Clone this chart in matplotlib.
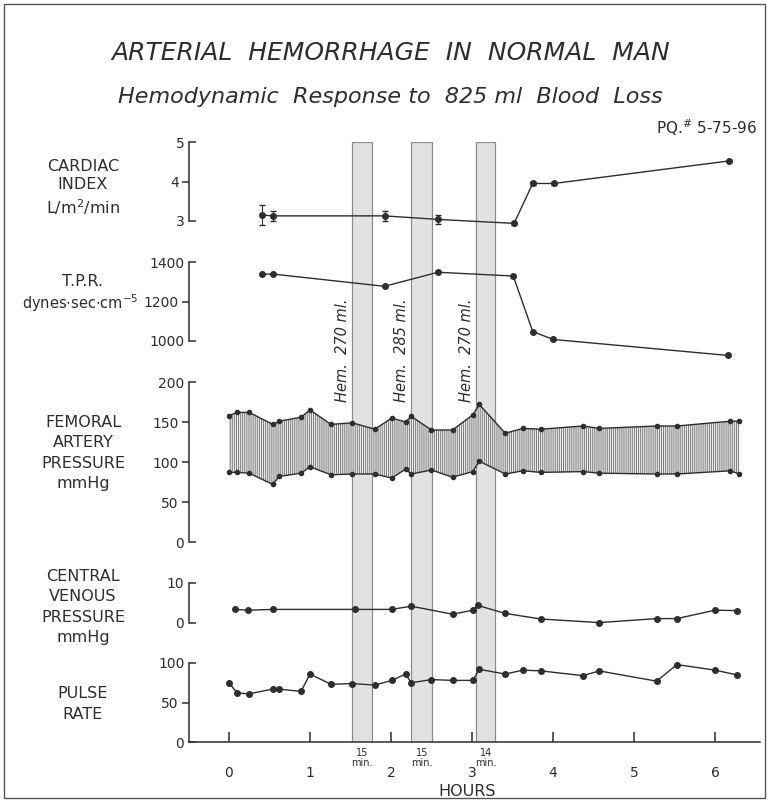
import matplotlib
matplotlib.use("Agg")
import matplotlib.pyplot as plt
from matplotlib.patches import Rectangle
from matplotlib.ticker import FixedLocator, FixedFormatter

plt.rcParams['font.family'] = ['DejaVu Sans']
plt.rcParams['hatch.linewidth'] = 0.7
plt.rcParams['hatch.color'] = '#7a7a7a'

INK = '#2e2e2e'

# cardiac index (L/m2/min)
ci_h = [0.41, 0.54, 1.92, 2.58, 3.52, 3.75, 4.01, 6.17]
ci = [3.15, 3.13, 3.13, 3.04, 2.94, 3.95, 3.95, 4.52]
ci_err = [0.25, 0.12, 0.12, 0.12, 0.04, 0.04, 0.04, 0.03]

# total peripheral resistance
tpr_h = [0.41, 0.54, 1.92, 2.58, 3.51, 3.75, 4.00, 6.16]
tpr = [1339, 1339, 1277, 1348, 1329, 1048, 1008, 927]

# femoral artery pressure
fem_h = [0.0, 0.10, 0.25, 0.54, 0.62, 0.89, 1.0, 1.26, 1.52, 1.80, 2.01, 2.18, 2.25,
         2.50, 2.76, 3.01, 3.09, 3.41, 3.63, 3.85, 4.37, 4.57, 5.28, 5.53, 6.19, 6.30]
fem_sys = [158, 162, 162, 147, 151, 156, 165, 147, 149, 141, 155, 150, 157,
           140, 140, 159, 172, 136, 142, 141, 145, 142, 145, 145, 151, 151]
fem_dia = [87, 87, 86, 72, 82, 86, 94, 84, 85, 85, 80, 91, 85,
           90, 81, 88, 101, 85, 89, 87, 88, 86, 85, 85, 89, 85]

# central venous pressure
cvp_h = [0.08, 0.24, 0.54, 1.55, 2.01, 2.25, 2.76, 3.01, 3.07, 3.41, 3.85, 4.57, 5.28, 5.53, 6.0, 6.27]
cvp = [3.4, 3.2, 3.4, 3.4, 3.4, 4.2, 2.2, 3.2, 4.4, 2.4, 1.0, 0.1, 1.1, 1.1, 3.2, 3.1]

# pulse rate
pulse_h = [0.0, 0.10, 0.25, 0.54, 0.62, 0.89, 1.0, 1.26, 1.52, 1.80, 2.01, 2.18, 2.25,
           2.50, 2.76, 3.01, 3.09, 3.41, 3.63, 3.85, 4.37, 4.57, 5.28, 5.53, 6.0, 6.27]
pulse = [75, 62, 61, 67, 67, 64, 86, 73, 74, 72, 78, 86, 75,
         79, 78, 78, 92, 86, 91, 90, 84, 90, 77, 98, 91, 85]

# hemorrhage periods
hem_start = [1.52, 2.25, 3.05]
hem_end = [1.77, 2.51, 3.29]
hem_vol = ['270', '285', '270']
hem_min = ['15', '15', '14']

W, H = 768, 802
fig = plt.figure(figsize=(W / 100, H / 100), dpi=100)
XL = (-0.5, 6.55)
LEFT, RIGHT = 188.5, 759.5


def panel(top, bottom, **kw):
    return fig.add_axes([LEFT / W, 1 - bottom / H, (RIGHT - LEFT) / W, (bottom - top) / H], **kw)


def style_y(ax, lo, hi, mids, fmt=str):
    ax.set_ylim(lo, hi)
    ax.set_xlim(*XL)
    ax.patch.set_visible(False)
    for s in ['top', 'right']:
        ax.spines[s].set_visible(False)
    ax.spines['left'].set_bounds(lo, hi)
    ax.spines['left'].set_color(INK)
    ax.spines['left'].set_linewidth(1.1)
    ax.yaxis.set_major_locator(FixedLocator([lo, hi]))
    ax.yaxis.set_major_formatter(FixedFormatter([fmt(lo), fmt(hi)]))
    ax.yaxis.set_minor_locator(FixedLocator(mids))
    ax.yaxis.set_minor_formatter(FixedFormatter([fmt(m) for m in mids]))
    ax.tick_params(axis='y', which='major', direction='in', length=5, width=1.1,
                   pad=3, labelsize=10, colors=INK)
    ax.tick_params(axis='y', which='minor', direction='out', length=5, width=1.1,
                   pad=2, labelsize=10, colors=INK)


# background strip for the hemorrhage periods
ov = panel(142, 742)
ov.set_xlim(*XL)
ov.set_ylim(0, 1)
ov.axis('off')
for s, e, v in zip(hem_start, hem_end, hem_vol):
    ov.axvspan(s, e, facecolor='#e2e2e2', edgecolor='#8c8c8c', lw=0.9)
    ov.text(s - 0.03, (742 - 350) / 600, f'Hem.  {v} ml.', rotation=90, ha='right', va='center',
            fontsize=10.5, style='italic', color=INK)

line_kw = dict(color=INK, lw=1.0, marker='o', ms=4)

# cardiac index
ax1 = panel(142, 221)
style_y(ax1, 3, 5, [4])
ax1.errorbar(ci_h, ci, yerr=ci_err, capsize=2, elinewidth=0.8, clip_on=False, **line_kw)
ax1.spines['bottom'].set_visible(False)
ax1.set_xticks([])

# TPR
ax2 = panel(262, 341)
style_y(ax2, 1000, 1400, [1200])
ax2.plot(tpr_h, tpr, clip_on=False, **line_kw)
ax2.spines['bottom'].set_visible(False)
ax2.set_xticks([])

# femoral artery pressure
ax3 = panel(382, 542)
style_y(ax3, 0, 200, [50, 100, 150])
ax3.fill_between(fem_h, fem_dia, fem_sys, facecolor='#eeeeee', edgecolor='#7a7a7a',
                 hatch='||||||||', lw=0)
ax3.plot(fem_h, fem_sys, color=INK, lw=1.0, marker='o', ms=3)
ax3.plot(fem_h, fem_dia, color=INK, lw=1.0, marker='o', ms=3)
ax3.spines['bottom'].set_visible(False)
ax3.set_xticks([])

# central venous pressure
ax4 = panel(583, 623)
style_y(ax4, 0, 10, [])
ax4.plot(cvp_h, cvp, clip_on=False, **line_kw)
ax4.spines['bottom'].set_visible(False)
ax4.set_xticks([])

# pulse rate
ax5 = panel(663, 742)
style_y(ax5, 0, 100, [50])
ax5.plot(pulse_h, pulse, clip_on=False, **line_kw)
ax5.spines['bottom'].set_bounds(XL[0], XL[1])
ax5.spines['bottom'].set_color(INK)
ax5.spines['bottom'].set_linewidth(1.1)
ax5.set_xticks(range(7))
ax5.tick_params(axis='x', direction='in', length=7, width=1.1, pad=17, labelsize=10, colors=INK)
ax5.set_xlabel('HOURS', fontsize=11.5, color=INK, va='center')
ax5.xaxis.set_label_coords((467 - LEFT) / (RIGHT - LEFT), -(792 - 742) / 79)
for s, e, m in zip(hem_start, hem_end, hem_min):
    ax5.annotate(f'{m}\nmin.', xy=((s + e) / 2, 0), xycoords=('data', 'axes fraction'),
                 xytext=(0, -4), textcoords='offset points', ha='center', va='top',
                 fontsize=7, linespacing=1.1, color=INK)

# panel names
lab_kw = dict(ha='center', va='center', fontsize=11.5, color=INK, linespacing=1.45)
fig.text(83 / W, 1 - 188 / H, 'CARDIAC\nINDEX\nL/m$^2$/min',
         **{**lab_kw, 'linespacing': 1.3})
fig.text(82 / W, 1 - 282 / H, 'T.P.R.', **lab_kw)
fig.text(80 / W, 1 - 303 / H, r'dynes$\cdot$sec$\cdot$cm$^{-5}$', **{**lab_kw, 'fontsize': 10.5})
fig.text(83 / W, 1 - 453 / H, 'FEMORAL\nARTERY\nPRESSURE\nmmHg', **lab_kw)
fig.text(83 / W, 1 - 607 / H, 'CENTRAL\nVENOUS\nPRESSURE\nmmHg', **lab_kw)
fig.text(83 / W, 1 - 704 / H, 'PULSE\nRATE', **lab_kw)

# titles
fig.text(391 / W, 1 - 53 / H, 'ARTERIAL  HEMORRHAGE  IN  NORMAL  MAN',
         ha='center', va='center', fontsize=18, style='italic', color=INK)
fig.text(390 / W, 1 - 97 / H, 'Hemodynamic  Response to  825 ml  Blood  Loss',
         ha='center', va='center', fontsize=16, style='italic', color=INK)
fig.text(757 / W, 1 - 128 / H, r'PQ.$^{\#}$ 5-75-96', ha='right', va='center',
         fontsize=11, color=INK)

# page frame
fig.patches.append(Rectangle((4 / W, 4 / H), 761 / W, 794 / H, transform=fig.transFigure,
                             fill=False, edgecolor='#555555', lw=1.0))

fig.savefig('out.png', dpi=100)
